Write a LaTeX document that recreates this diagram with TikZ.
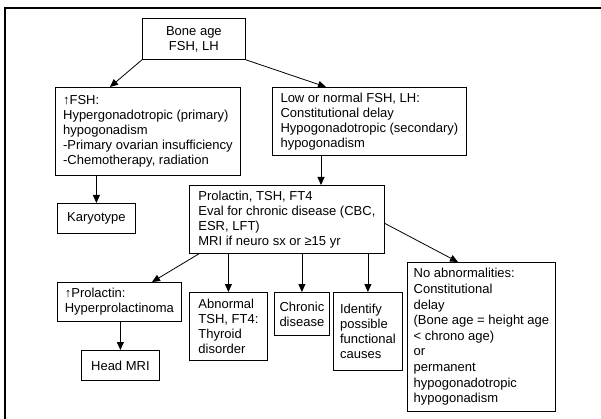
\documentclass[tikz,border=0pt]{standalone}
\usepackage{fontspec}
\setmainfont{Liberation Sans}
\usetikzlibrary{arrows.meta}

\begin{document}
\begin{tikzpicture}[x=1pt,y=-1pt,->,>={Triangle[length=8pt,width=7pt]},
                    line width=0.8pt]
  \tikzstyle{box}=[draw,rectangle,anchor=north west,inner xsep=3pt,inner ysep=2pt,
                   align=left,font=\fontsize{13}{15}\selectfont]

  \useasboundingbox (0,0) rectangle (601,419);
  \draw[-,line width=1.2pt] (5,419) -- (5,8) -- (601,8);

  \node[box,align=center,minimum width=103pt,minimum height=41pt] (bone) at (142,18) {Bone age\\FSH, LH};
  \node[box,minimum width=185pt,minimum height=88pt] (fsh) at (55,87)
    {↑FSH:\\Hypergonadotropic (primary)\\hypogonadism\\-Primary ovarian insufficiency\\-Chemotherapy, radiation};
  \node[box,minimum width=194pt,minimum height=68pt] (low) at (272,87)
    {Low or normal FSH, LH:\\Constitutional delay\\Hypogonadotropic (secondary)\\hypogonadism};
  \node[box,minimum width=78pt,minimum height=30pt] (karyo) at (57,203) {Karyotype};
  \node[box,minimum width=195pt,minimum height=68pt] (prl) at (189,185)
    {Prolactin, TSH, FT4\\Eval for chronic disease (CBC,\\ESR, LFT)\\MRI if neuro sx or ≥15 yr};
  \node[box,minimum width=124pt,minimum height=39pt] (hprl) at (57,282) {↑Prolactin:\\Hyperprolactinoma};
  \node[box,minimum width=78pt,minimum height=30pt] (mri) at (81,350) {Head MRI};
  \node[box,minimum width=78pt,minimum height=68pt] (tsh) at (189,292) {Abnormal\\TSH, FT4:\\Thyroid\\disorder};
  \node[box,minimum width=55pt,minimum height=43pt] (chr) at (274,292) {Chronic\\disease};
  \node[box,minimum width=69pt,minimum height=78pt] (idf) at (333,292) {Identify\\possible\\functional\\causes};
  \node[box,minimum width=148pt,minimum height=149pt,font=\fontsize{13}{15.6}\selectfont] (noab) at (407,262)
    {No abnormalities:\\Constitutional\\delay\\(Bone age = height age\\< chrono age)\\or\\permanent\\hypogonadotropic\\hypogonadism};

  \coordinate (lowout) at ([xshift=49pt]low.south west);

  \draw (bone.south west) -- ([xshift=55pt]fsh.north west);
  \draw (bone.south east) -- ([xshift=54pt]low.north west);
  \draw (karyo.north |- fsh.south) -- (karyo.north);
  \draw (lowout) -- (lowout |- prl.north);
  \draw ([xshift=10pt]prl.south west) -- ([xshift=95pt]hprl.north west);
  \draw (tsh.north |- prl.south) -- (tsh.north);
  \draw (chr.north |- prl.south) -- (chr.north);
  \draw (idf.north |- prl.south) -- (idf.north);
  \draw ([yshift=-4pt]prl.east) -- ([xshift=51pt]noab.north west);
  \draw (hprl.south -| mri.north) -- (mri.north);
\end{tikzpicture}
\end{document}
